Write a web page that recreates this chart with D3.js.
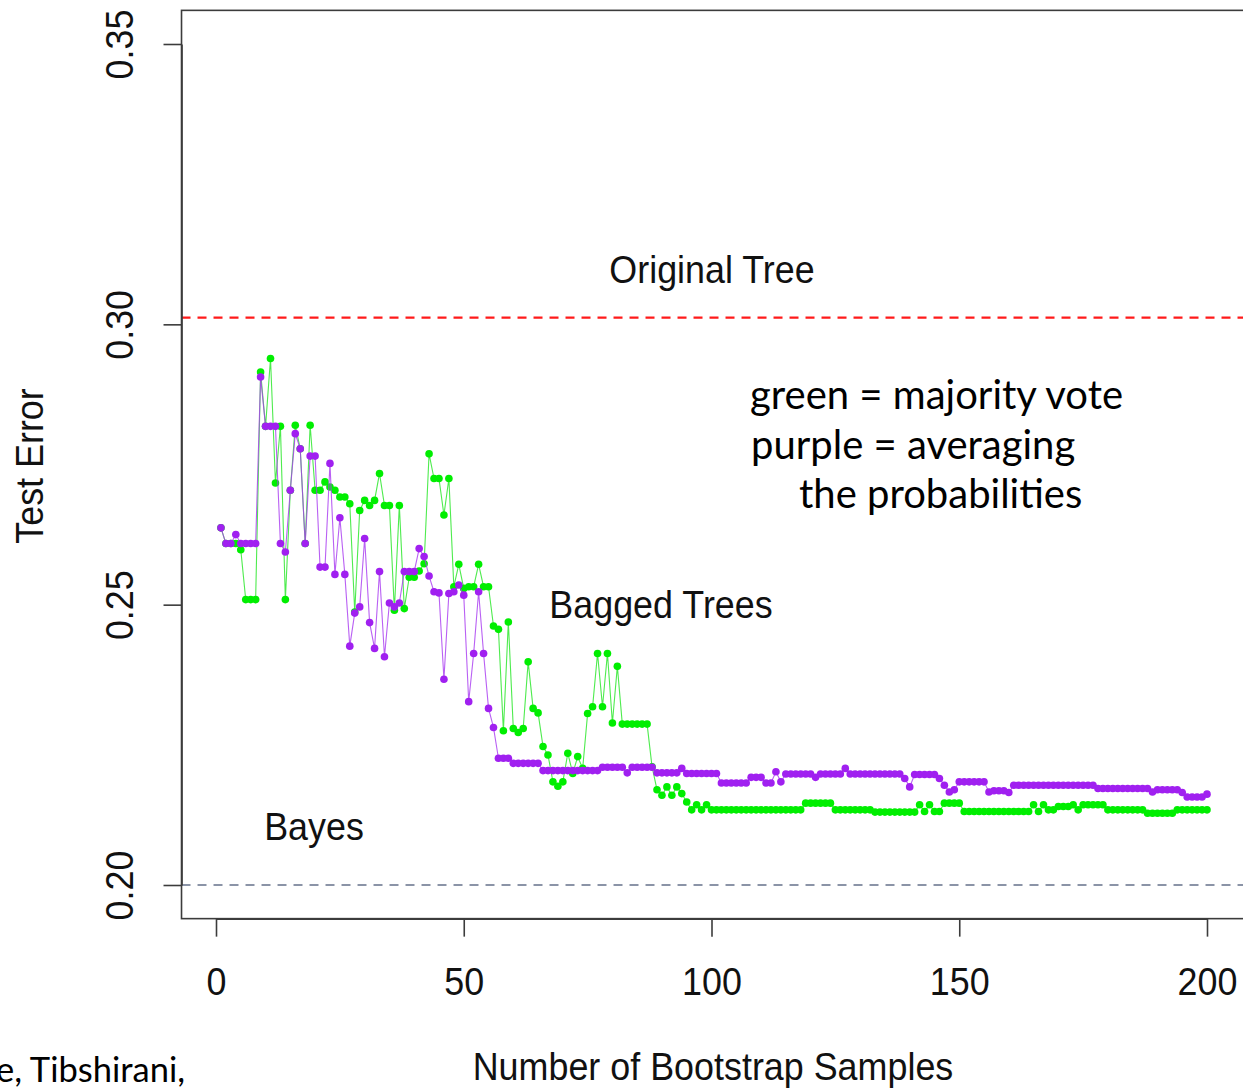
<!DOCTYPE html>
<html>
<head>
<meta charset="utf-8">
<script src="https://cdn.jsdelivr.net/npm/d3@7"></script>
<style>
  body { margin: 0; background: #ffffff; }
  svg { display: block; }
</style>
</head>
<body>
<svg id="chart" width="1243" height="1088"></svg>
<script>
// Number of bootstrap samples (1 … 200 trees in the bag)
const bootstrapSamples = d3.range(1, 201);

// Test error, majority vote over the bagged trees
const majorityVote = [
  0.2637,0.2609,0.2609,0.2609,0.2598,0.2509,0.2509,0.2509,
  0.2915,0.2818,0.2939,0.2717,0.2818,0.2509,0.2704,0.2820,
  0.2778,0.2609,0.2820,0.2704,0.2704,0.2719,0.2710,0.2704,
  0.2692,0.2692,0.2680,0.2487,0.2668,0.2686,0.2677,0.2686,
  0.2734,0.2677,0.2677,0.2490,0.2677,0.2493,0.2549,0.2549,
  0.2560,0.2573,0.2769,0.2725,0.2725,0.2660,0.2725,0.2532,
  0.2572,0.2529,0.2532,0.2532,0.2572,0.2532,0.2532,0.2462,
  0.2456,0.2275,0.2469,0.2279,0.2272,0.2279,0.2398,0.2315,
  0.2307,0.2247,0.2232,0.2184,0.2176,0.2184,0.2235,0.2199,
  0.2229,0.2208,0.2306,0.2318,0.2413,0.2318,0.2413,0.2289,
  0.2390,0.2287,0.2287,0.2287,0.2287,0.2287,0.2287,0.2211,
  0.2170,0.2160,0.2175,0.2160,0.2175,0.2163,0.2148,0.2134,
  0.2143,0.2134,0.2143,0.2134,0.2134,0.2134,0.2134,0.2134,
  0.2134,0.2134,0.2134,0.2134,0.2134,0.2134,0.2134,0.2134,
  0.2134,0.2134,0.2134,0.2134,0.2134,0.2134,0.2146,0.2146,
  0.2146,0.2146,0.2146,0.2146,0.2134,0.2134,0.2134,0.2134,
  0.2134,0.2134,0.2134,0.2134,0.2130,0.2130,0.2130,0.2130,
  0.2130,0.2130,0.2130,0.2130,0.2130,0.2143,0.2131,0.2143,
  0.2131,0.2131,0.2146,0.2146,0.2146,0.2146,0.2131,0.2131,
  0.2131,0.2131,0.2131,0.2131,0.2131,0.2131,0.2131,0.2131,
  0.2131,0.2131,0.2131,0.2131,0.2143,0.2131,0.2143,0.2134,
  0.2134,0.2140,0.2140,0.2140,0.2143,0.2134,0.2143,0.2143,
  0.2143,0.2143,0.2143,0.2134,0.2134,0.2134,0.2134,0.2134,
  0.2134,0.2134,0.2134,0.2128,0.2128,0.2128,0.2128,0.2128,
  0.2128,0.2134,0.2134,0.2134,0.2134,0.2134,0.2134,0.2134
];

// Test error, averaging the class probabilities of the bagged trees
const averagedProbs = [
  0.2637,0.2609,0.2609,0.2625,0.2609,0.2609,0.2609,0.2609,
  0.2906,0.2818,0.2818,0.2818,0.2609,0.2594,0.2704,0.2805,
  0.2778,0.2609,0.2765,0.2765,0.2567,0.2567,0.2752,0.2554,
  0.2655,0.2554,0.2426,0.2485,0.2496,0.2618,0.2468,0.2422,
  0.2559,0.2407,0.2503,0.2496,0.2503,0.2559,0.2559,0.2559,
  0.2600,0.2586,0.2551,0.2523,0.2521,0.2367,0.2520,0.2523,
  0.2535,0.2517,0.2327,0.2413,0.2523,0.2413,0.2315,0.2281,
  0.2226,0.2226,0.2226,0.2217,0.2217,0.2217,0.2217,0.2217,
  0.2217,0.2204,0.2204,0.2204,0.2204,0.2204,0.2204,0.2204,
  0.2204,0.2204,0.2204,0.2204,0.2204,0.2210,0.2210,0.2210,
  0.2210,0.2210,0.2200,0.2210,0.2210,0.2210,0.2210,0.2210,
  0.2200,0.2200,0.2200,0.2200,0.2200,0.2208,0.2199,0.2199,
  0.2199,0.2199,0.2199,0.2199,0.2199,0.2182,0.2182,0.2182,
  0.2182,0.2182,0.2182,0.2192,0.2192,0.2192,0.2182,0.2182,
  0.2202,0.2184,0.2198,0.2198,0.2198,0.2198,0.2198,0.2198,
  0.2192,0.2198,0.2198,0.2198,0.2198,0.2198,0.2208,0.2198,
  0.2198,0.2198,0.2198,0.2198,0.2198,0.2198,0.2198,0.2198,
  0.2198,0.2198,0.2190,0.2175,0.2197,0.2197,0.2197,0.2197,
  0.2197,0.2190,0.2178,0.2166,0.2170,0.2184,0.2184,0.2184,
  0.2184,0.2184,0.2184,0.2166,0.2168,0.2168,0.2168,0.2165,
  0.2178,0.2178,0.2178,0.2178,0.2178,0.2178,0.2178,0.2178,
  0.2178,0.2178,0.2178,0.2178,0.2178,0.2178,0.2178,0.2178,
  0.2178,0.2172,0.2172,0.2172,0.2172,0.2172,0.2172,0.2172,
  0.2172,0.2172,0.2172,0.2172,0.2166,0.2170,0.2170,0.2170,
  0.2170,0.2170,0.2165,0.2157,0.2157,0.2157,0.2157,0.2162
];

// Reference error levels
const originalTreeError = 0.3012;
const bayesError = 0.20;

// Axis ticks
const xTicks = [0, 50, 100, 150, 200];
const yTicks = [0.20, 0.25, 0.30, 0.35];
const yTickLabels = ["0.20", "0.25", "0.30", "0.35"];

// Annotation text
const noteLines = ["green = majority vote", "purple = averaging", "the probabilities"];

const svg = d3.select("#chart");
const x = d3.scaleLinear().domain([0, 200]).range([216, 1207]);
const y = d3.scaleLinear().domain([0.20, 0.35]).range([885, 44]);

// plotting region, padded 4% beyond the data range on each side
const xPad = (200 - 1) * 0.04;
const box = {
  left: x(1 - xPad), right: x(200 + xPad),
  top: y(0.35 + 0.15 * 0.04), bottom: y(0.20 - 0.15 * 0.04)
};

const rFont = "'Liberation Sans', Arial, sans-serif";
const rSize = 39, squeeze = 0.92;
const axisColor = "#3c3c3c";

svg.append("rect").attr("width", 1243).attr("height", 1088).attr("fill", "#fff");

svg.append("clipPath").attr("id", "plotClip")
  .append("rect")
  .attr("x", box.left).attr("y", box.top)
  .attr("width", box.right - box.left).attr("height", box.bottom - box.top);

// reference lines
svg.append("line")
  .attr("x1", box.left).attr("x2", box.right)
  .attr("y1", y(originalTreeError)).attr("y2", y(originalTreeError))
  .attr("stroke", "#ff1a1a").attr("stroke-width", 2.2)
  .attr("stroke-dasharray", "9,7");

svg.append("line")
  .attr("x1", box.left).attr("x2", box.right)
  .attr("y1", y(bayesError)).attr("y2", y(bayesError))
  .attr("stroke", "#66728a").attr("stroke-width", 1.6)
  .attr("stroke-dasharray", "9,7");

// series
const series = [
  { values: majorityVote, color: "#00ee00", line: "#22e622" },
  { values: averagedProbs, color: "#a020f0", line: "#a838f0" }
];

const plot = svg.append("g").attr("clip-path", "url(#plotClip)");
const lineGen = d3.line().x((d, i) => x(bootstrapSamples[i])).y(d => y(d));

series.forEach(s => {
  plot.append("path")
    .datum(s.values)
    .attr("d", lineGen)
    .attr("fill", "none")
    .attr("stroke", s.line)
    .attr("stroke-width", 1.1)
    .attr("stroke-opacity", 0.8);
  plot.append("g").selectAll("circle")
    .data(s.values)
    .join("circle")
    .attr("cx", (d, i) => x(bootstrapSamples[i]))
    .attr("cy", d => y(d))
    .attr("r", 3.8)
    .attr("fill", s.color);
});

// frame
svg.append("rect")
  .attr("x", box.left).attr("y", box.top)
  .attr("width", box.right - box.left).attr("height", box.bottom - box.top)
  .attr("fill", "none").attr("stroke", axisColor).attr("stroke-width", 1.6);

// x axis
const xAxis = svg.append("g")
  .attr("transform", `translate(0,${box.bottom})`)
  .call(d3.axisBottom(x).tickValues(xTicks).tickSize(18).tickSizeOuter(0).tickFormat(d3.format("d")));
xAxis.select(".domain").attr("stroke", axisColor).attr("stroke-width", 1.6);
xAxis.selectAll(".tick line").attr("stroke", axisColor).attr("stroke-width", 1.6);
xAxis.selectAll(".tick text")
  .attr("y", 0).attr("dy", 0)
  .attr("transform", `translate(0,${995 - box.bottom}) scale(${squeeze},1)`)
  .attr("font-family", rFont).attr("font-size", rSize).attr("fill", "#111");

// y axis
const yAxis = svg.append("g")
  .attr("transform", `translate(${box.left},0)`)
  .call(d3.axisLeft(y).tickValues(yTicks).tickSize(18).tickSizeOuter(0)
    .tickFormat((d, i) => yTickLabels[i]));
yAxis.select(".domain").attr("stroke", axisColor).attr("stroke-width", 1.6);
yAxis.selectAll(".tick line").attr("stroke", axisColor).attr("stroke-width", 1.6);
yAxis.selectAll(".tick text")
  .attr("x", 0).attr("y", 0).attr("dy", 0)
  .attr("text-anchor", "middle")
  .attr("transform", `translate(${133 - box.left},0) rotate(-90) scale(${squeeze},1)`)
  .attr("font-family", rFont).attr("font-size", rSize).attr("fill", "#111");

// axis titles
svg.append("text")
  .attr("transform", `translate(713,1080) scale(${squeeze},1)`)
  .attr("text-anchor", "middle")
  .attr("font-family", rFont).attr("font-size", rSize).attr("fill", "#111")
  .text("Number of Bootstrap Samples");

svg.append("text")
  .attr("transform", `translate(43,466) rotate(-90) scale(${squeeze},1)`)
  .attr("text-anchor", "middle")
  .attr("font-family", rFont).attr("font-size", rSize).attr("fill", "#111")
  .text("Test Error");

// in-plot labels
const plotLabels = [
  { text: "Original Tree", cx: 712, base: 283 },
  { text: "Bagged Trees", cx: 661, base: 618 },
  { text: "Bayes", cx: 314, base: 840 }
];
svg.selectAll("text.plotLabel")
  .data(plotLabels)
  .join("text")
  .attr("class", "plotLabel")
  .attr("transform", d => `translate(${d.cx},${d.base}) scale(${squeeze},1)`)
  .attr("text-anchor", "middle")
  .attr("font-family", rFont).attr("font-size", rSize).attr("fill", "#111")
  .text(d => d.text);

// explanatory note (third line indented under "averaging")
const noteFont = "Lato, 'Open Sans', sans-serif";
const noteIndent = [750, 751, 799];
svg.append("g").selectAll("text")
  .data(noteLines)
  .join("text")
  .attr("x", (d, i) => noteIndent[i])
  .attr("y", (d, i) => 409 + i * 49.5)
  .attr("font-family", noteFont).attr("font-size", 40).attr("fill", "#000")
  .text(d => d);

// source credit (runs off the left edge)
svg.append("text")
  .attr("x", 185).attr("y", 1082)
  .attr("text-anchor", "end")
  .attr("font-family", noteFont).attr("font-size", 34.5).attr("fill", "#000")
  .text("Hastie, Tibshirani,");
</script>
</body>
</html>
